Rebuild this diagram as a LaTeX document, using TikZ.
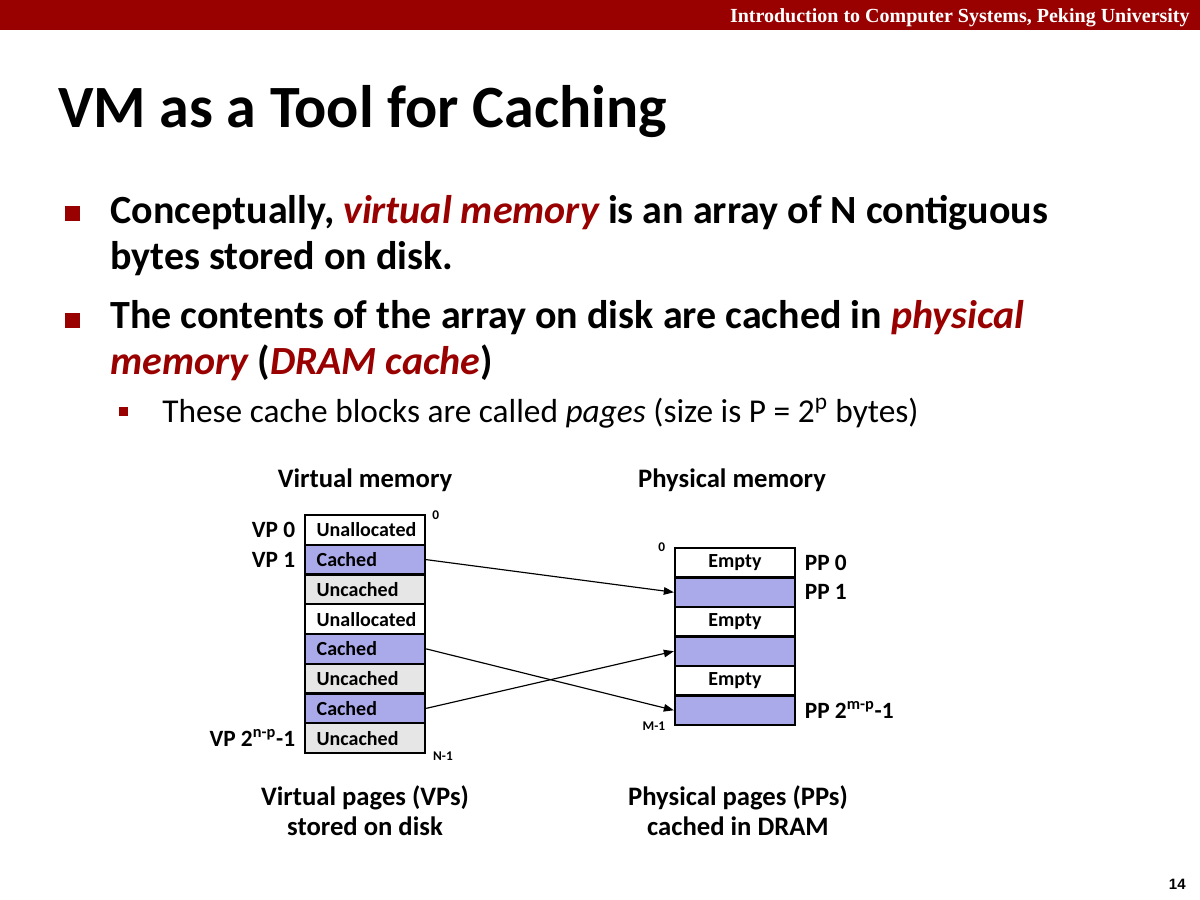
\documentclass[tikz,border=0pt]{standalone}
\usepackage{fontspec}
\setmainfont{Carlito}
\newfontfamily\hdrfont{Liberation Serif}
\newfontfamily\pgnfont{Liberation Sans}
\usetikzlibrary{positioning,arrows.meta}

\definecolor{pkured}{RGB}{153,0,0}
\definecolor{pagehit}{RGB}{170,170,235}
\definecolor{pagemiss}{RGB}{230,230,230}

\newcommand{\redit}[1]{{\color{pkured}\itshape #1}}

\tikzset{
  page/.style={draw, line width=1.4pt, minimum width=72pt, minimum height=17.85pt,
    inner sep=0pt, font=\bfseries\fontsize{12}{14}\selectfont},
  vpage/.style={page, text width=58pt, align=left},
  free/.style={fill=white},
  hit/.style={fill=pagehit},
  miss/.style={fill=pagemiss},
  lbl/.style={inner sep=0pt, font=\bfseries\fontsize{14}{16}\selectfont},
  tinylbl/.style={inner sep=0pt, font=\bfseries\fontsize{8}{9}\selectfont},
  head/.style={inner sep=0pt, font=\bfseries\fontsize{16}{18}\selectfont, align=center},
  bullet/.style={anchor=base west, inner sep=0pt, align=left, font=\bfseries\fontsize{24}{27.6}\selectfont},
  map/.style={-{Triangle[length=6pt,width=4.5pt]}, line width=0.7pt},
}

\begin{document}
\begin{tikzpicture}[x=0.6pt,y=-0.6pt]
  \useasboundingbox (0,0) rectangle (1200,900);

  % header bar
  \fill[pkured] (0,0) rectangle (1200,30);
  \node[anchor=base east, inner sep=0pt, text=white, font=\hdrfont\bfseries\fontsize{12}{14}\selectfont]
    (hdr) at (1190,22) {Introduction to Computer Systems, Peking University};

  % title and bullets
  \node[anchor=base west, inner sep=0pt, font=\bfseries\fontsize{36}{40}\selectfont]
    (title) at (58,127) {VM as a Tool for Caching};

  \fill[pkured] (65,206) rectangle (80,221);
  \fill[pkured] (65,313) rectangle (80,328);
  \fill[pkured] (119,407) rectangle (128,416);

  % base anchor sits on the last line
  \node[bullet] (bul1) at (110,269) {Conceptually, \redit{virtual memory} is an array of N contiguous\\bytes stored on disk.};
  \node[bullet] (bul2) at (110,374) {The contents of the array on disk are cached in \redit{physical}\\\redit{memory} (\redit{DRAM cache})};
  \node[anchor=base west, inner sep=0pt, font=\fontsize{20}{24}\selectfont]
    (sub1) at (162,422) {These cache blocks are called \textit{pages} (size is P = 2\textsuperscript{p} bytes)};

  % virtual pages
  \node[head, anchor=base] (vhead) at (365,487) {Virtual memory};
  \foreach \i/\kind/\txt in {0/free/Unallocated,1/hit/Cached,2/miss/Uncached,3/free/Unallocated,
      4/hit/Cached,5/miss/Uncached,6/hit/Cached,7/miss/Uncached}
    \node[vpage,\kind] (vp\i) at (365,{515+29.75*(\i+0.5)}) {\txt};

  \node[lbl, left=5pt of vp0] (vpl0) {VP 0};
  \node[lbl, left=5pt of vp1] (vpl1) {VP 1};
  \node[lbl, left=5pt of vp7] (vpl7) {VP 2\textsuperscript{n-p}-1};
  \node[tinylbl, anchor=west, xshift=3.5pt, yshift=-1pt] (vtop) at (vp0.north east) {0};
  \node[tinylbl, anchor=west, xshift=4pt, yshift=-1pt] (vbot) at (vp7.south east) {N-1};

  % physical pages
  \node[head, anchor=base] (phead) at (732,487) {Physical memory};
  \foreach \i/\kind/\txt in {0/free/Empty,1/hit/,2/free/Empty,3/hit/,4/free/Empty,5/hit/}
    \node[page,\kind] (pp\i) at (735,{548+29.5*(\i+0.5)}) {\txt};

  \node[lbl, right=5pt of pp0] (ppl0) {PP 0};
  \node[lbl, right=5pt of pp1] (ppl1) {PP 1};
  \node[lbl, right=5pt of pp5] (ppl5) {PP 2\textsuperscript{m-p}-1};
  \node[tinylbl, anchor=east, xshift=-5pt] (ptop) at (pp0.north west) {0};
  \node[tinylbl, anchor=east, xshift=-5pt] (pbot) at (pp5.south west) {M-1};

  % mapping
  \draw[map] (vp1.east) -- (pp1.west);
  \draw[map] (vp4.east) -- (pp5.west);
  \draw[map] (vp6.east) -- (pp3.west);

  % captions
  \node[head, anchor=base] (vcap) at (365,835) {Virtual pages (VPs)\\stored on disk};
  \node[head, anchor=base] (pcap) at (738,835) {Physical pages (PPs)\\cached in DRAM};

  \node[anchor=base east, inner sep=0pt, font=\pgnfont\bfseries\fontsize{9}{10}\selectfont]
    (pgno) at (1186,889) {14};
\end{tikzpicture}
\end{document}
